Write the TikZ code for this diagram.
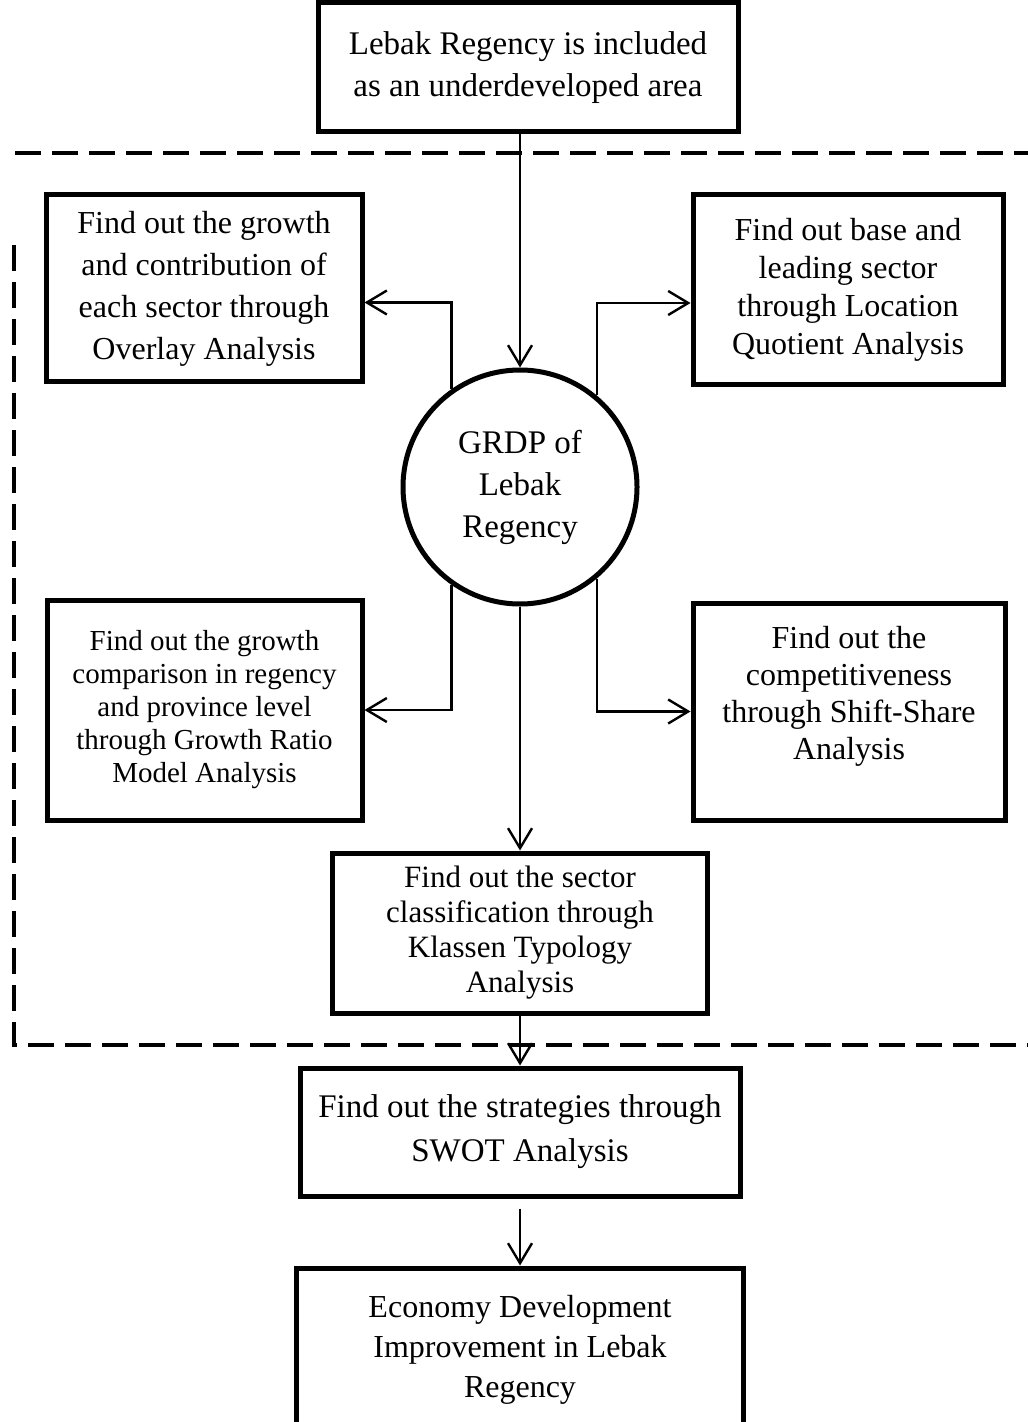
\documentclass[tikz,border=0pt]{standalone}
\usepackage{fontspec}
\setmainfont{Liberation Serif}
\usetikzlibrary{arrows.meta,calc}
\tikzstyle{stage}=[rectangle, line width=2.5pt, draw=black, inner sep=0pt]
\tikzstyle{source}=[circle, line width=2.5pt, draw=black, minimum size=117pt, inner sep=0pt]
\tikzstyle{connect}=[-{Straight Barb[length=10pt,width=12pt]}, line width=1.2pt]
\tikzstyle{frame}=[dash pattern=on 13pt off 5.5pt, line width=1.75pt]

\begin{document}
\begin{tikzpicture}[x=0.5pt, y=-0.5pt, every text node part/.style={align=center}]
  \useasboundingbox (0,0) rectangle (1027,1422);

  \node[stage, minimum width=210pt, minimum height=64.5pt, font=\fontsize{16.5}{21}\selectfont] (area) at (528,67.5) {Lebak Regency is included\\ as an underdeveloped area};
  \node[source, font=\fontsize{16.5}{21}\selectfont] (grdp) at (520,487) {GRDP of\\ Lebak\\ Regency};
  \node[stage, minimum width=158pt, minimum height=93.5pt, font=\fontsize{16}{21}\selectfont] (overlay) at (204,288.5) {Find out the growth\\ and contribution of\\ each sector through\\ Overlay Analysis};
  \node[stage, minimum width=155pt, minimum height=95pt, font=\fontsize{16}{19}\selectfont] (lq) at (848,290) {Find out base and\\ leading sector\\ through Location\\ Quotient Analysis};
  \node[stage, minimum width=157.5pt, minimum height=110pt, font=\fontsize{14.5}{16.5}\selectfont] (ratio) at (204.5,710) {Find out the growth\\ comparison in regency\\ and province level\\ through Growth Ratio\\ Model Analysis};
  \node[stage, minimum width=156pt, minimum height=108.5pt, font=\fontsize{16}{18.5}\selectfont] (shift) at (849,711.5) {Find out the\\ competitiveness\\ through Shift-Share\\ Analysis\\ \mbox{}};
  \node[stage, minimum width=187.5pt, minimum height=80pt, font=\fontsize{15.5}{17.5}\selectfont] (klassen) at (520,933) {Find out the sector\\ classification through\\ Klassen Typology\\ Analysis};
  \node[stage, minimum width=220pt, minimum height=64pt, font=\fontsize{16.5}{22}\selectfont] (swot) at (520,1132) {Find out the strategies through\\ SWOT Analysis};
  \node[stage, minimum width=223.5pt, minimum height=82pt, font=\fontsize{16}{20}\selectfont] (econ) at (520,1350) {Economy Development\\ Improvement in Lebak\\ Regency};

  % research scope
  \draw[frame] (1040,153) -- (10,153);
  \draw[frame] (14,245) -- (14,1045) -- (1040,1045);

  \draw[connect] (grdp|-area.south) -- (grdp.north);
  \draw[connect] (grdp.125) |- ([yshift=-7pt]overlay.east);
  \draw[connect] (grdp.50) |- ([yshift=-6.5pt]lq.west);
  \draw[connect] (grdp.-125) |- (ratio.east);
  \draw[connect] (grdp.-50) |- (shift.west);
  \draw[connect] (grdp.south) -- (klassen.north);
  \draw[connect] (klassen.south) -- (swot.north);
  \draw[connect] ([yshift=-5pt]swot.south) -- (econ.north);
\end{tikzpicture}
\end{document}
